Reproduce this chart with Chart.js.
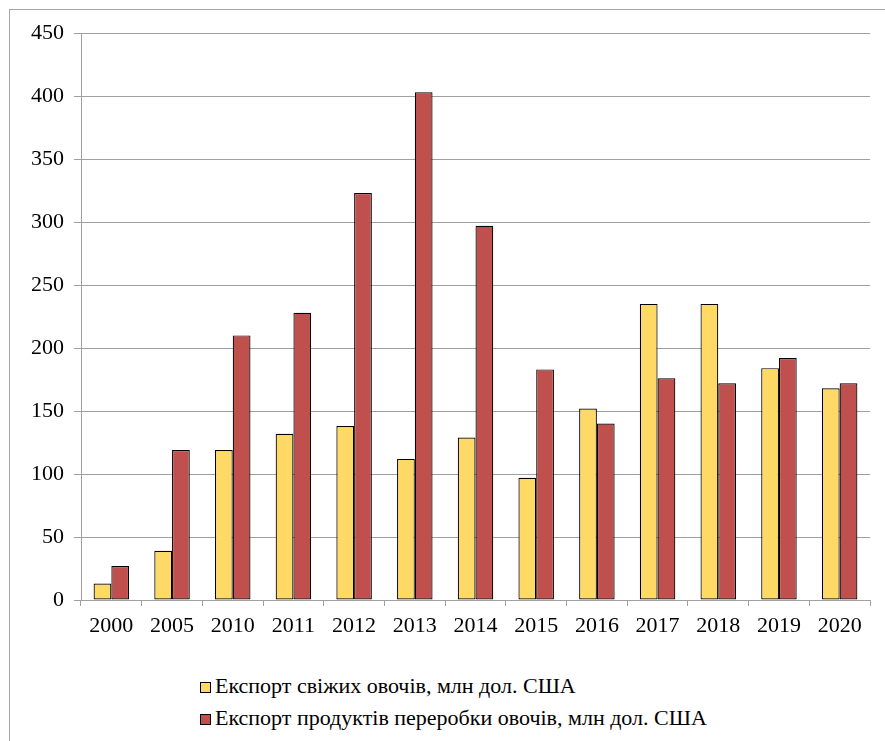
<!DOCTYPE html>
<html>
<head>
<meta charset="utf-8">
<script src="https://cdn.jsdelivr.net/npm/chart.js@4"></script>
<style>
  body{margin:0;background:#fff;}
  #wrap{position:relative;width:885px;height:741px;overflow:hidden;}
  #frame{position:absolute;left:9px;top:9px;width:900px;height:760px;border:1px solid #a6a6a6;}
  #cv{position:absolute;left:0;top:0;}
  #legend{position:absolute;left:200px;top:673px;font-family:"Liberation Serif","Times New Roman",serif;font-size:22px;color:#000;}
  .item{height:32px;line-height:26px;white-space:nowrap;}
  .box{display:inline-block;width:9px;height:9px;border:1px solid #000;margin-right:4px;vertical-align:0px;}
</style>
</head>
<body>
<div id="wrap">
  <div id="frame"></div>
  <canvas id="cv" width="885" height="660"></canvas>
  <div id="legend"></div>
</div>
<script>
'use strict';
let years=['2000','2005','2010','2011','2012','2013','2014','2015','2016','2017','2018','2019','2020'];
let freshExport=[13,39,119,132,138,112,129,97,152,235,235,184,168];
let processedExport=[27,119,210,228,323,403,297,183,140,176,172,192,172];
let seriesNames=['Експорт свіжих овочів, млн дол. США','Експорт продуктів переробки овочів, млн дол. США'];
let seriesColors=['#FFD966','#C0504D'];

let tickFont={family:'"Liberation Serif", "Times New Roman", serif',size:22};

let chart=new Chart(document.getElementById('cv'),{
  type:'bar',
  data:{
    labels:years,
    datasets:[{
      label:seriesNames[0],
      data:freshExport,
      backgroundColor:seriesColors[0],
      borderColor:'#000',
      borderWidth:1.2,
      borderSkipped:false
    },{
      label:seriesNames[1],
      data:processedExport,
      backgroundColor:seriesColors[1],
      borderColor:'#000',
      borderWidth:1.2,
      borderSkipped:false
    }]
  },
  options:{
    responsive:false,
    animation:false,
    layout:{padding:{top:33,right:15,left:0,bottom:0}},
    plugins:{legend:{display:false},tooltip:{enabled:false}},
    datasets:{bar:{categoryPercentage:0.585,barPercentage:1}},
    scales:{
      x:{
        grid:{drawOnChartArea:false,drawTicks:true,tickLength:6,color:'#a0a0a0',offset:true},
        border:{color:'#a0a0a0'},
        ticks:{color:'#000',font:tickFont,padding:7,maxRotation:0,autoSkip:false},
        afterFit:function(s){s.height=60;}
      },
      y:{
        min:0,max:450,
        grid:{color:'#a0a0a0',tickLength:7},
        border:{color:'#a0a0a0'},
        ticks:{stepSize:50,color:'#000',font:tickFont,padding:10},
        afterFit:function(s){s.width=81;}
      }
    }
  }
});

// legend as html, built from the datasets
let legend=document.getElementById('legend');
chart.data.datasets.forEach(function(ds){
  let row=document.createElement('div');
  row.className='item';
  let box=document.createElement('span');
  box.className='box';
  box.style.background=ds.backgroundColor;
  row.appendChild(box);
  row.appendChild(document.createTextNode(ds.label));
  legend.appendChild(row);
});
</script>
</body>
</html>
